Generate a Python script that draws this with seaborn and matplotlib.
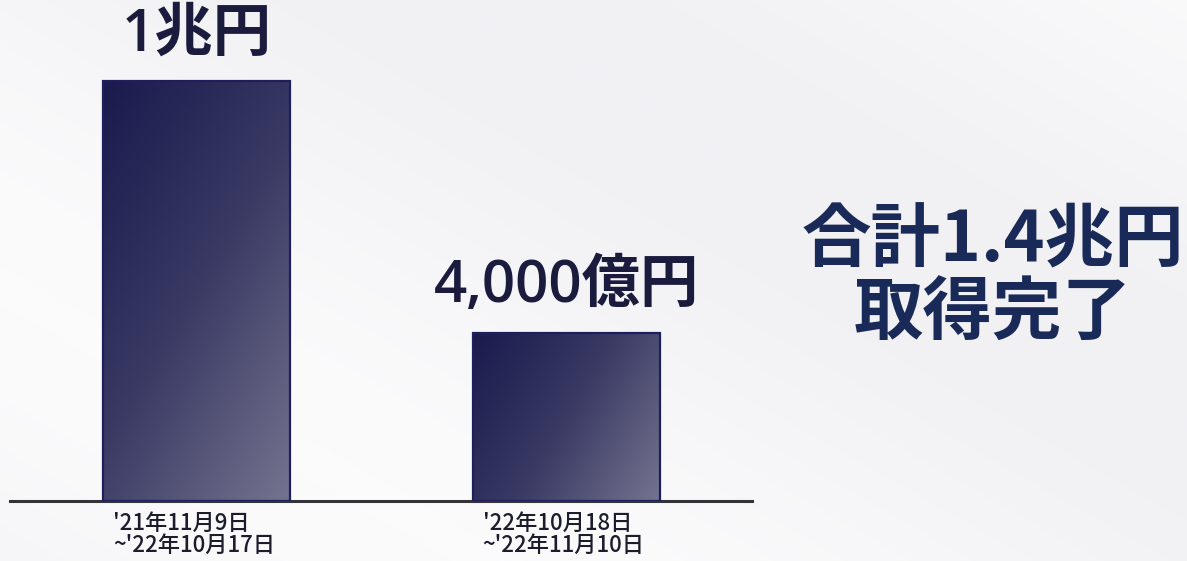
import matplotlib
matplotlib.use("Agg")
import matplotlib.pyplot as plt
from matplotlib.colors import LinearSegmentedColormap
from matplotlib.transforms import ScaledTranslation
import numpy as np
import pandas as pd
import seaborn as sns

# Share buyback amounts (unit: 億円)
periods = ["'21年11月9日\n~'22年10月17日", "'22年10月18日\n~'22年11月10日"]
amounts = [10000, 4000]
value_labels = ["1兆円", "4,000億円"]
headline = "合計1.4兆円\n取得完了"

sns.set_theme(style="white")
plt.rcParams["font.family"] = ["Noto Sans CJK JP", "DejaVu Sans"]
num_family = ["Open Sans", "Noto Sans CJK JP", "DejaVu Sans"]

W, H, DPI = 1187, 561, 100
fig = plt.figure(figsize=(W / DPI, H / DPI), dpi=DPI)
fig.patch.set_facecolor("#f6f6f8")

# soft diagonal light streaks in the backdrop
bg = fig.add_axes([0, 0, 1, 1], zorder=-10)
bg.set_xlim(0, 1)
bg.set_ylim(0, 1)
bg.axis("off")
yy, xx = np.mgrid[0:1:200j, 0:1:400j]
shade = 0.5 + 0.5 * np.sin((xx * 1.2 + yy) * 3.2)
bg.imshow(shade, extent=[0, 1, 0, 1], origin="lower", aspect="auto",
          cmap=LinearSegmentedColormap.from_list("bgc", ["#f1f1f4", "#fbfbfc"]),
          vmin=0, vmax=1)

ax_left, ax_right = 10 / W, 752 / W
ax_bottom = 60 / H
ax = fig.add_axes([ax_left, ax_bottom, ax_right - ax_left, 1 - ax_bottom])
ax.set_facecolor("none")

df = pd.DataFrame({"period": periods, "amount": amounts})
sns.barplot(data=df, x="period", y="amount", ax=ax, width=0.506,
            color="#2a2a5a", edgecolor="#1e1e5c", linewidth=1.6, saturation=1)

ax.set_xlim(-0.505, 1.503)
ax.set_ylim(0, 10000 * 501 / 420)

# diagonal navy-to-slate gradient fill inside each bar
cmap = LinearSegmentedColormap.from_list("bar", ["#1a1a4e", "#3a3a64", "#74738f"])
for patch in ax.patches:
    x0, y0 = patch.get_x(), patch.get_y()
    w, h = patch.get_width(), patch.get_height()
    wpx = w * 369.5
    hpx = h * 420 / 10000
    gy, gx = np.mgrid[0:1:120j, 0:1:120j]
    # gy = 0 at bottom; depth grows away from the top-left corner
    t = (gx * wpx + 0.6 * (1 - gy) * hpx) / (wpx + 0.6 * hpx)
    im = ax.imshow(t, extent=[x0, x0 + w, y0, y0 + h], origin="lower",
                   aspect="auto", cmap=cmap, vmin=0, vmax=1, zorder=2)
    im.set_clip_path(patch)
    patch.set_facecolor("none")
    patch.set_zorder(3)

for i, (v, lab) in enumerate(zip(amounts, value_labels)):
    ax.annotate(lab, (i, v), xytext=(0, 12), textcoords="offset points",
                ha="center", va="bottom", fontsize=42, fontweight="semibold",
                color="#1b1b3d", family=num_family)

for s in ["top", "right", "left"]:
    ax.spines[s].set_visible(False)
ax.spines["bottom"].set_color("#333338")
ax.spines["bottom"].set_linewidth(2.2)
ax.set_yticks([])
ax.set_xlabel("")
ax.set_ylabel("")
ax.tick_params(axis="x", length=0, pad=8)
ax.set_xticks(range(len(periods)))
ax.set_xticklabels(periods, ha="left", fontsize=16, color="#1c1c2c",
                   linespacing=0.95, fontweight="medium")
shift = ScaledTranslation(-83.5 / DPI, 0, fig.dpi_scale_trans)
for lbl in ax.get_xticklabels():
    lbl.set_transform(lbl.get_transform() + shift)

fig.text(993 / W, 1 - 278 / H, headline, ha="center", va="center",
         fontsize=50, fontweight="bold", color="#1a2a58", linespacing=1.05)

fig.savefig("out.png", dpi=DPI, facecolor=fig.get_facecolor())
